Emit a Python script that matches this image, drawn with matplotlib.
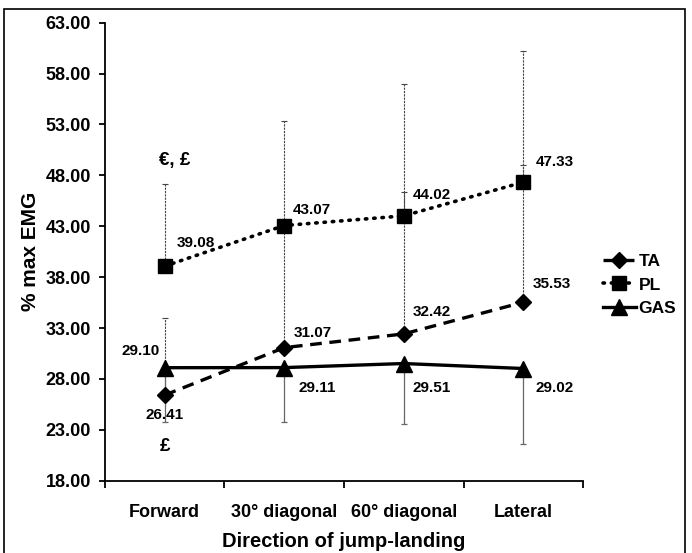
import matplotlib.pyplot as plt
import matplotlib.patches as patches
import numpy as np

plt.rcParams['font.family'] = ['Liberation Sans', 'DejaVu Sans']

# data
directions = ['Forward', '30° diagonal', '60° diagonal', 'Lateral']
ta = [26.41, 31.07, 32.42, 35.53]
pl = [39.08, 43.07, 44.02, 47.33]
gas = [29.10, 29.11, 29.51, 29.02]
ta_sd = [7.6, 12.0, 13.9, 13.5]     # drawn upward only
pl_sd = [8.1, 10.3, 13.0, 12.9]     # drawn upward only
gas_sd = [5.3, 5.3, 5.9, 7.4]       # drawn downward only
y_ticks = [18, 23, 28, 33, 38, 43, 48, 53, 58, 63]

x = np.arange(len(directions))
zeros = [0] * len(x)

fig = plt.figure(figsize=(6.92, 5.53), dpi=100)
ax = fig.add_axes([0.1517, 0.1308, 0.6908, 0.8282])

# error bars (one-sided)
eb = ax.errorbar(x, pl, yerr=[zeros, pl_sd], fmt='none', ecolor='#444444',
                 elinewidth=0.8, capsize=2, capthick=0.8, zorder=1)
eb[2][0].set_linestyle((0, (2, 1)))
eb = ax.errorbar(x, ta, yerr=[zeros, ta_sd], fmt='none', ecolor='#444444',
                 elinewidth=0.8, capsize=2, capthick=0.8, zorder=1)
eb[2][0].set_linestyle((0, (2, 1)))
ax.errorbar(x, gas, yerr=[gas_sd, zeros], fmt='none', ecolor='#666666',
            elinewidth=0.9, capsize=2, capthick=0.9, zorder=1)

# series
ax.plot(x, ta, color='black', lw=2.4, linestyle=(0, (3.5, 2.3)),
        marker='D', ms=8, label='TA', zorder=3)
ax.plot(x, pl, color='black', lw=2.6, linestyle=(0, (0.4, 1.9)),
        dash_capstyle='round', marker='s', ms=10, label='PL', zorder=3)
ax.plot(x, gas, color='black', lw=2.4, marker='^', ms=11, label='GAS', zorder=3)

# value labels
def lab(txt, xv, yv, dx, dy, ha='left'):
    ax.annotate(txt, (xv, yv), xytext=(dx * 0.72, dy * 0.72),
                textcoords='offset points', ha=ha, va='center',
                fontsize=11, fontweight='bold')

lab('39.08', 0, pl[0], 12, 23)
lab('43.07', 1, pl[1], 9, 16)
lab('44.02', 2, pl[2], 9, 21)
lab('47.33', 3, pl[3], 12, 20)
lab('31.07', 1, ta[1], 9, 15)
lab('32.42', 2, ta[2], 9, 22)
lab('35.53', 3, ta[3], 9, 18)
lab('26.41', 0, ta[0], 0, -20, ha='center')
lab('29.10', 0, gas[0], -5, 17, ha='right')
lab('29.11', 1, gas[1], 14, -20)
lab('29.51', 2, gas[2], 9, -24)
lab('29.02', 3, gas[3], 12, -19)

ax.annotate('€, £', (0, pl[0]), xytext=(7, 76), textcoords='offset points',
            ha='center', va='center', fontsize=13.5, fontweight='bold')
ax.annotate('£', (0, ta[0]), xytext=(0, -37), textcoords='offset points',
            ha='center', va='center', fontsize=13.5, fontweight='bold')

# axes styling
ax.set_xlim(-0.5, 3.5)
ax.set_ylim(18, 63)
ax.set_yticks(y_ticks)
ax.set_yticklabels([f'{v:.2f}' for v in y_ticks])
ax.set_xticks(x)
ax.set_xticklabels(directions)
ax.set_xticks(np.arange(-0.5, 4, 1), minor=True)
ax.tick_params(axis='x', which='major', length=0, pad=17, labelsize=13)
ax.tick_params(axis='x', which='minor', length=5, width=1.3, direction='out')
ax.tick_params(axis='y', length=4, width=1.3, direction='out', pad=6, labelsize=13)
for t in ax.get_xticklabels() + ax.get_yticklabels():
    t.set_fontweight('bold')
for side in ['top', 'right']:
    ax.spines[side].set_visible(False)
for side in ['left', 'bottom']:
    ax.spines[side].set_linewidth(1.3)

ax.set_xlabel('Direction of jump-landing', fontsize=14.5, fontweight='bold', labelpad=8)
ax.set_ylabel('% max EMG', fontsize=15, fontweight='bold', labelpad=4)

fig.legend(loc='center left', bbox_to_anchor=(603 / 692, 1 - 285 / 553),
           frameon=False, handlelength=1.9, handletextpad=0.15,
           labelspacing=0.5, borderpad=0, borderaxespad=0,
           prop={'weight': 'bold', 'size': 12.5})

# thin frame around the whole picture
fig.patches.append(patches.Rectangle((4 / 692, -0.01), 681 / 692, 0.9937,
                                     transform=fig.transFigure, fill=False,
                                     lw=1.2, edgecolor='black'))

fig.savefig('out.png', dpi=100)
